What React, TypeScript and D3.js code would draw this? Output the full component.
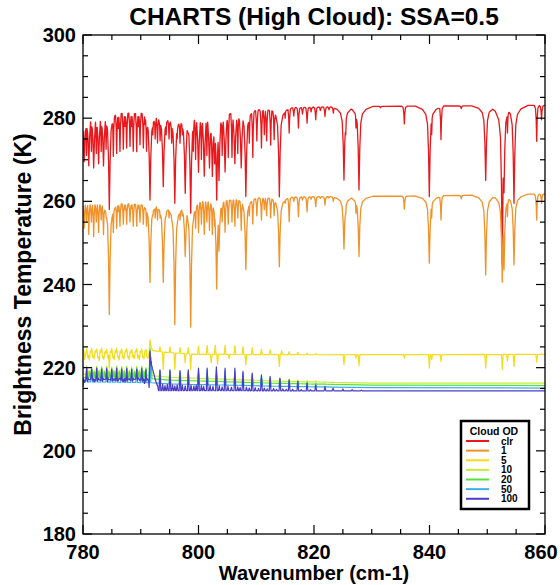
import React from 'react';
import * as d3 from 'd3';

// ---------- text & axes ----------
const TITLE = 'CHARTS (High Cloud): SSA=0.5';
const X_TITLE = 'Wavenumber (cm-1)';
const Y_TITLE = 'Brightness Temperature (K)';
const LEGEND_TITLE = 'Cloud OD';
const X_DOMAIN: [number, number] = [780, 860];
const Y_DOMAIN: [number, number] = [180, 300];
const X_TICKS = [780, 800, 820, 840, 860];
const Y_TICKS = [180, 200, 220, 240, 260, 280, 300];
const X_MINOR = d3.range(780, 861, 5);
const Y_MINOR = d3.range(180, 301, 5);
const SERIES_NAMES = ['clr', '1', '5', '10', '20', '50', '100'];

// ---------- series: continuum (envelope) + line features [wavenumber, T] ----------
const clrEnvelope: [number, number][] = [
  [780, 281.7], [785, 281.9], [790, 281.9], [791.6, 281.0], [795, 280.6], [797, 280.2], [798.65, 280.6],
  [799.6, 281.9], [805, 282.1], [810, 282.3], [815, 282.6], [825, 282.8], [840, 282.9], [860, 283.1],
];
const clrLines: [number, number][] = [
  [780.2, 269.5], [780.6, 271], [781.0, 268.5], [781.45, 272], [781.85, 268], [782.3, 271.5], [782.7, 269],
  [783.15, 272], [783.55, 268.5], [784.0, 272.5], [784.56, 258],
  [785.25, 270.8], [785.83, 271.5], [786.1, 277.5], [786.4, 272], [786.98, 272.5], [787.27, 278], [787.56, 272.8],
  [788.14, 273.2], [788.4, 278], [788.7, 272], [789.3, 271.9], [789.6, 278], [789.87, 273.6], [790.45, 272.8],
  [790.75, 278.5], [791.0, 272],
  [791.6, 260.3], [792.1, 276], [792.5, 275], [792.9, 274], [793.35, 274.5], [793.9, 263.5],
  [794.4, 276], [794.9, 275], [795.35, 274], [795.9, 259.5], [796.3, 275], [796.8, 274], [797.2, 276],
  [797.7, 261.9], [798.65, 257.1],
  [799.1, 272], [799.5, 270], [800.0, 267], [800.5, 270], [801.0, 266], [801.45, 271], [801.9, 268],
  [802.4, 266], [802.8, 269], [803.15, 260.3], [803.55, 265],
  [804.1, 271], [804.6, 267], [805.15, 270.5], [805.8, 270.5], [806.3, 269], [806.8, 271.5], [807.4, 268],
  [808.2, 261.1],
  [808.8, 274], [809.4, 270.5], [810.1, 274.5], [810.9, 272.8], [811.4, 276], [811.8, 274.5], [812.5, 273.5],
  [813.1, 274.8], [814.0, 261.1],
  [815.0, 280], [815.7, 276.4], [816.5, 280.5], [817.3, 277.6], [818.0, 281], [818.8, 278.8], [819.5, 281.5],
  [820.3, 279.6], [821.1, 281.8], [821.9, 280.4], [822.6, 282], [823.35, 281.2], [824.4, 282],
  [825.19, 265.1], [825.5, 276], [827.27, 277.6], [827.79, 262.7], [829.5, 282.4], [831.5, 282.5],
  [835.64, 278.6], [839.97, 261.1], [840.38, 276], [841.99, 274.8], [845.5, 282.3], [849.73, 265],
  [852.6, 245], [852.9, 262], [853.5, 276.4], [854.63, 259.5], [858.56, 274.4], [859.4, 279.6],
];

const od1Envelope: [number, number][] = [
  [780, 259.6], [785, 259.9], [791.6, 259.6], [797, 259.0], [798.65, 259.3], [799.6, 260.3], [805, 260.7],
  [810, 261.0], [815, 261.1], [840, 261.3], [860, 261.8],
];
const od1Lines: [number, number][] = [
  [780.2, 253.5], [780.6, 255], [781.0, 252], [781.45, 255], [781.85, 251.5], [782.3, 255], [782.7, 252.5],
  [783.15, 255.5], [783.55, 252], [784.0, 256], [784.56, 232.7],
  [785.25, 252.5], [785.83, 253.5], [786.1, 257.5], [786.4, 254], [786.98, 254.5], [787.27, 258], [787.56, 254.5],
  [788.14, 255], [788.4, 258.3], [788.7, 254], [789.3, 254], [789.6, 258.3], [789.87, 255], [790.45, 254.5],
  [790.75, 258.5], [791.0, 254],
  [791.6, 240.5], [792.1, 256.5], [792.5, 256], [792.9, 255.5], [793.35, 256], [793.9, 240.5],
  [794.4, 256.5], [794.9, 256], [795.35, 255.5], [795.9, 230.3], [796.3, 256], [796.8, 255.5], [797.2, 256.5],
  [797.7, 246.7], [798.65, 229.7],
  [799.1, 255], [799.5, 253.5], [800.0, 252.5], [800.5, 254.5], [801.0, 252], [801.45, 255], [801.9, 253],
  [802.4, 252], [802.8, 254], [803.15, 238.9], [803.55, 248],
  [804.1, 255], [804.6, 252.5], [805.15, 254.5], [805.8, 255], [806.3, 254], [806.8, 256], [807.4, 253],
  [808.2, 243.5],
  [808.8, 256.5], [809.4, 254.5], [810.1, 256.5], [810.9, 255.5], [811.4, 258], [811.8, 256.5], [812.5, 256],
  [813.1, 256.5], [814.0, 244.3],
  [815.0, 259.5], [815.7, 255.1], [816.5, 260], [817.3, 256.3], [818.0, 260.3], [818.8, 257.5], [819.5, 260.5],
  [820.3, 258.7], [821.1, 260.7], [821.9, 259.1], [822.6, 260.8], [823.35, 260],
  [825.19, 248.5], [825.5, 256.8], [827.27, 257.1], [827.79, 246.7], [835.64, 258.1], [839.97, 245.1],
  [840.38, 256], [841.99, 255.5], [845.5, 260.6], [849.73, 242.3], [852.6, 240.5], [852.9, 243.5], [853.5, 256.3],
  [854.63, 244.7], [858.56, 255.5], [859.4, 259.5],
];

const od5Envelope: [number, number][] = [
  [780, 223.3], [791.4, 223.3], [791.8, 224.2], [793, 223.9], [795, 223.6], [800, 223.2], [820, 223.1], [860, 223.2],
];
const od5Lines: [number, number][] = [
  [780.1, 224.2], [780.3, 222.0], [780.64, 224.6], [780.85, 222.4], [781.1, 221.8], [781.3, 224.0], [781.5, 224.7],
  [781.7, 222.5], [781.9, 222.1], [782.15, 224.1], [782.37, 224.5], [782.6, 222.3], [782.8, 221.7], [783.0, 224.2],
  [783.23, 224.7], [783.4, 222.4], [783.6, 222.0], [783.85, 224.0], [784.1, 224.4], [784.3, 222.3], [784.56, 219.9],
  [784.75, 224.0], [784.97, 224.6], [785.2, 222.3], [785.4, 222.0], [785.6, 224.1], [785.83, 224.7], [786.05, 222.4],
  [786.25, 221.8], [786.45, 224.0], [786.7, 224.5], [786.9, 222.3], [787.1, 222.1], [787.35, 224.2], [787.57, 224.6],
  [787.8, 222.4], [788.0, 221.9], [788.2, 224.0], [788.43, 224.4], [788.65, 222.4], [788.9, 222.2], [789.1, 224.1],
  [789.3, 224.6], [789.5, 222.3], [789.75, 221.9], [789.95, 224.0], [790.17, 224.5], [790.35, 222.4], [790.55, 222.1],
  [790.75, 224.1], [790.9, 224.4], [791.1, 222.5], [791.25, 222.2],
  [791.6, 226.7], [791.75, 225.3], [791.9, 224.6], [793.33, 225.0], [793.9, 219.5], [795.06, 225.0], [795.9, 219.5],
  [796.8, 224.8], [797.7, 221.1], [798.23, 224.8], [798.65, 219.5], [800.0, 225.2], [801.5, 225.4], [802.2, 221.2],
  [802.9, 225.4], [803.3, 220.8], [804.6, 225.4], [805.3, 222.2], [806.3, 225.3], [807.7, 225.1], [808.2, 220.7],
  [809.3, 224.8], [810.9, 224.5], [812.4, 224.3], [814.0, 220.3], [814.4, 224.1], [815.7, 223.9], [817.2, 223.7],
  [818.8, 223.5], [820.3, 223.4],
  [825.19, 220.7], [827.27, 222.3], [827.79, 220.5], [835.64, 222.3], [839.97, 219.9], [840.38, 222.0],
  [841.99, 221.5], [849.73, 219.9], [852.6, 219.5], [853.5, 221.6], [854.63, 220.3], [858.56, 221.3],
];

const od10Envelope: [number, number][] = [
  [780, 218.4], [791.5, 218.1], [795, 217.7], [805, 217.2], [815, 216.7], [830, 216.3], [860, 216.3],
];
const od10Lines: [number, number][] = [
  [780.64, 220.4], [781.05, 219.4], [781.5, 220.2], [781.95, 219.3], [782.37, 220.4], [782.8, 219.4], [783.23, 220.3],
  [783.65, 219.3], [784.1, 220.4], [784.5, 219.4], [784.97, 220.2], [785.4, 219.3], [785.83, 220.4], [786.25, 219.4],
  [786.7, 220.3], [787.15, 219.3], [787.57, 220.4], [788.0, 219.4], [788.43, 220.2], [788.85, 219.3], [789.3, 220.3],
  [789.75, 219.4], [790.17, 220.4], [790.55, 219.3], [790.9, 220.1],
  [791.6, 225.0], [791.8, 222.0], [793.33, 219.3], [795.06, 219.2], [796.8, 219.0], [798.23, 219.0], [800.0, 218.9],
  [801.5, 218.8], [803.1, 218.7], [804.6, 218.5], [806.3, 218.3], [807.7, 218.1], [809.3, 217.9], [810.9, 217.7],
  [812.4, 217.5], [814.1, 217.4], [815.7, 217.2], [817.2, 217.0], [818.8, 216.9], [820.3, 216.8], [821.9, 216.6],
  [823.3, 216.5],
];

const od20Envelope: [number, number][] = [
  [780, 217.6], [791.5, 217.4], [795, 217.0], [805, 216.6], [815, 216.2], [830, 215.8], [860, 215.7],
];
const od20Lines: [number, number][] = [
  [780.64, 220.1], [781.1, 219.0], [781.5, 219.9], [781.9, 219.0], [782.37, 220.1], [782.75, 219.1], [783.23, 220.0],
  [783.7, 219.0], [784.1, 220.1], [784.55, 219.0], [784.97, 219.9], [785.35, 219.1], [785.83, 220.1], [786.3, 219.0],
  [786.7, 220.0], [787.1, 219.1], [787.57, 220.1], [788.0, 219.0], [788.43, 219.9], [788.9, 219.0], [789.3, 220.0],
  [789.7, 219.1], [790.17, 220.1], [790.6, 219.0], [790.9, 219.8],
  [791.6, 224.5], [791.8, 221.5], [793.33, 218.9], [795.06, 218.8], [796.8, 218.7], [798.23, 218.7], [800.0, 218.6],
  [801.5, 218.5], [803.1, 218.4], [804.6, 218.2], [806.3, 218.0], [807.7, 217.8], [809.3, 217.6], [810.9, 217.4],
  [812.4, 217.2], [814.1, 217.0], [815.7, 216.8], [817.2, 216.6], [818.8, 216.5], [820.3, 216.3], [821.9, 216.1],
  [823.3, 216.0],
];

const od50Envelope: [number, number][] = [
  [780, 216.6], [791.5, 216.4], [795, 216.1], [805, 215.8], [815, 215.5], [830, 215.2], [860, 215.1],
];
const od50Lines: [number, number][] = [
  [780.64, 219.7], [781.5, 219.5], [782.37, 219.8], [783.23, 219.6], [784.1, 219.7], [784.97, 219.5], [785.83, 219.8],
  [786.7, 219.6], [787.57, 219.7], [788.43, 219.5], [789.3, 219.6], [790.17, 219.7], [790.9, 219.4],
  [791.6, 224.0], [793.33, 219.2], [795.06, 219.2], [796.8, 219.0], [798.23, 219.1], [800.0, 219.4], [801.5, 219.4],
  [803.1, 219.6], [804.6, 219.3], [806.3, 219.2], [807.7, 218.7], [809.3, 218.3], [810.9, 217.9], [812.4, 217.5],
  [814.1, 217.2], [815.7, 216.8], [817.2, 216.5], [818.8, 216.1], [820.3, 215.8], [821.9, 215.5], [823.3, 215.3],
];

const od100Envelope: [number, number][] = [[780, 214.5], [830, 214.4], [860, 214.4]];
const od100Lines: [number, number][] = [
  [780.1, 217.3], [780.22, 216.9], [780.35, 217.0], [780.5, 217.3], [780.64, 219.8], [780.77, 217.0], [780.9, 217.5],
  [781.05, 217.2], [781.2, 217.1], [781.35, 217.4], [781.5, 219.6], [781.65, 217.1], [781.8, 217.4], [781.92, 217.0],
  [782.05, 217.2], [782.2, 217.4], [782.37, 219.9], [782.5, 217.1], [782.65, 217.5], [782.8, 217.2], [782.95, 217.0],
  [783.1, 217.3], [783.23, 219.7], [783.36, 217.0], [783.5, 217.4], [783.65, 217.2], [783.8, 217.2], [783.95, 217.4],
  [784.1, 219.8], [784.22, 217.1], [784.35, 217.5], [784.5, 217.2], [784.65, 217.1], [784.8, 217.4], [784.97, 219.6],
  [785.1, 217.2], [785.25, 217.3], [785.4, 217.0], [785.55, 217.4], [785.7, 217.2], [785.83, 219.9], [785.97, 217.1],
  [786.1, 217.2], [786.25, 217.4], [786.4, 217.5], [786.55, 217.0], [786.7, 219.7], [786.82, 217.3], [786.95, 217.1],
  [787.12, 217.4], [787.3, 217.4], [787.43, 217.1], [787.57, 219.8], [787.7, 217.2], [787.85, 217.3], [788.0, 217.4],
  [788.15, 217.0], [788.3, 217.3], [788.43, 219.6], [788.56, 217.1], [788.7, 217.4], [788.85, 217.2], [789.0, 217.2],
  [789.15, 217.4], [789.3, 219.7], [789.45, 217.0], [789.6, 217.5], [789.75, 217.2], [789.9, 217.1], [790.03, 217.4],
  [790.17, 219.8], [790.3, 217.1], [790.45, 217.3], [790.58, 217.2], [790.7, 217.0], [790.8, 217.3], [790.9, 219.5],
  [791.05, 217.1], [791.2, 217.2], [791.35, 217.0],
  [791.6, 223.9], [791.72, 222.6], [791.85, 221.4], [791.98, 220.3], [792.12, 219.4], [792.27, 218.6],
  [792.42, 217.8], [792.58, 217.1], [792.75, 216.4], [792.92, 215.8],
  [793.33, 219.5], [793.8, 216.0], [794.2, 215.7], [794.6, 216.0], [795.06, 219.5], [795.5, 215.9], [795.9, 215.6],
  [796.3, 215.9], [796.8, 219.3], [797.2, 215.8], [797.7, 215.6], [798.23, 219.5], [798.7, 215.8], [799.2, 215.6],
  [799.6, 215.8], [800.0, 219.9], [800.5, 215.7], [800.9, 215.5], [801.5, 219.9], [802.0, 215.7], [802.5, 215.5],
  [803.1, 220.2], [803.6, 215.6], [804.1, 215.4], [804.6, 219.9], [805.1, 215.5], [805.7, 215.3], [806.3, 219.9],
  [806.8, 215.4], [807.2, 215.2], [807.7, 219.1], [808.3, 215.3], [808.8, 215.1], [809.3, 218.7], [809.8, 215.2],
  [810.4, 215.0], [810.9, 218.3], [811.4, 215.1], [811.9, 214.9], [812.4, 217.9], [813.0, 215.0], [813.5, 214.8],
  [814.1, 217.5], [814.6, 214.9], [815.2, 214.8], [815.7, 217.1], [816.3, 214.8], [817.2, 216.7], [817.8, 214.7],
  [818.8, 216.3], [819.4, 214.7], [820.3, 215.9], [821.9, 215.5], [823.3, 215.1], [825.0, 214.9], [826.6, 214.7],
  [828.2, 214.6],
];

const SERIES = [
  { env: clrEnvelope, lines: clrLines },
  { env: od1Envelope, lines: od1Lines },
  { env: od5Envelope, lines: od5Lines },
  { env: od10Envelope, lines: od10Lines },
  { env: od20Envelope, lines: od20Lines },
  { env: od50Envelope, lines: od50Lines },
  { env: od100Envelope, lines: od100Lines },
];

// ---------- styles ----------
const COLORS = ['#e8181c', '#f0922a', '#f2dc1c', '#c6ec3a', '#56e03a', '#3aaee8', '#4b3cc8'];
const FONT = '"Liberation Sans", Arial, Helvetica, sans-serif';
const W = 560, H = 585;
const PL = 83, PR = 545, PT = 35, PB = 534;
// line shapes in pixels: [offset, fraction of depth]
const PROFILE_WIDE: [number, number][] = [
  [-14, 0], [-7, 0.035], [-3.5, 0.09], [-1.8, 0.2], [-0.8, 0.5], [0, 1], [0.8, 0.5], [1.8, 0.2], [3.5, 0.09], [7, 0.035], [14, 0],
];
const PROFILE_MED: [number, number][] = [
  [-2.6, 0], [-1.2, 0.08], [-0.5, 0.4], [0, 1], [0.5, 0.4], [1.2, 0.08], [2.6, 0],
];
const PROFILE_NARROW: [number, number][] = [[-0.85, 0], [0, 1], [0.85, 0]];
const DEEP_LINE_K = 12;

export default function App() {
  const x = d3.scaleLinear().domain(X_DOMAIN).range([PL, PR]);
  const y = d3.scaleLinear().domain(Y_DOMAIN).range([PB, PT]);
  const lineGen = d3.line<[number, number]>().x((d) => d[0]).y((d) => d[1]);
  const mkProfile = (prof: [number, number][]) => ({
    s: d3.scaleLinear().domain(prof.map((p) => p[0])).range(prof.map((p) => p[1])).clamp(true),
    offs: prof.map((p) => p[0]),
    reach: prof[prof.length - 1][0],
  });
  const pWide = mkProfile(PROFILE_WIDE);
  const pMed = mkProfile(PROFILE_MED);
  const pNarrow = mkProfile(PROFILE_NARROW);

  const buildPath = (env: [number, number][], lines: [number, number][], upper: boolean) => {
    const envScale = d3.scaleLinear().domain(env.map((d) => d[0])).range(env.map((d) => d[1])).clamp(true);
    const lp = lines.map(([c, t]) => {
      const delta = t - envScale(c);
      const prof = upper ? (Math.abs(delta) > DEEP_LINE_K ? pWide : pMed) : pNarrow;
      return { cp: x(c), delta, prof };
    });
    const set = new Set<number>();
    set.add(PL); set.add(PR);
    env.forEach((d) => set.add(Math.round(x(d[0]) * 100) / 100));
    lp.forEach((l) => l.prof.offs.forEach((o) => set.add(Math.round((l.cp + o) * 100) / 100)));
    const pxs = Array.from(set).filter((p) => p >= PL && p <= PR).sort((a, b) => a - b);
    const pts: [number, number][] = pxs.map((px) => {
      const b = envScale(x.invert(px));
      let lo = 0, hi = 0;
      for (const l of lp) {
        const dd = px - l.cp;
        if (dd <= -l.prof.reach || dd >= l.prof.reach) continue;
        const v = l.delta * l.prof.s(dd);
        if (v < lo) lo = v;
        if (v > hi) hi = v;
      }
      return [px, y(b + lo + hi)];
    });
    return lineGen(pts) || '';
  };

  const paths = SERIES.map((s, i) => buildPath(s.env, s.lines, i < 2));

  const legX = 461, legY = 421, legW = 68, legH = 88;
  const xLabelX = (v: number) => Math.min(x(v), W - 19);

  return (
    <div style={{ position: 'absolute', left: 0, top: 0, width: W, height: H, background: '#fff' }}>
      <svg width={W} height={H} style={{ display: 'block' }} fontFamily={FONT}>
        <rect x={0} y={0} width={W} height={H} fill="#fff" />
        <defs>
          <clipPath id="plotClip">
            <rect x={PL} y={PT} width={PR - PL} height={PB - PT} />
          </clipPath>
        </defs>
        <text x={(PL + PR) / 2} y={25} textAnchor="middle" fontSize={24.5} fontWeight="bold">{TITLE}</text>

        <g clipPath="url(#plotClip)">
          {paths.map((p, i) => (
            <path key={i} d={p} fill="none" stroke={COLORS[i]} strokeWidth={i < 2 ? 1.3 : 1.2} strokeLinejoin="round" />
          ))}
        </g>

        {/* frame */}
        <rect x={PL} y={PT} width={PR - PL} height={PB - PT} fill="none" stroke="#000" strokeWidth={1.3} />
        {X_MINOR.map((v) => {
          const len = X_TICKS.includes(v) ? 9 : 5;
          return (
            <g key={'xt' + v}>
              <line x1={x(v)} x2={x(v)} y1={PB} y2={PB - len} stroke="#000" strokeWidth={1.2} />
              <line x1={x(v)} x2={x(v)} y1={PT} y2={PT + len} stroke="#000" strokeWidth={1.2} />
            </g>
          );
        })}
        {Y_MINOR.map((v) => {
          const len = Y_TICKS.includes(v) ? 9 : 5;
          return (
            <g key={'yt' + v}>
              <line x1={PL} x2={PL + len} y1={y(v)} y2={y(v)} stroke="#000" strokeWidth={1.2} />
              <line x1={PR} x2={PR - len} y1={y(v)} y2={y(v)} stroke="#000" strokeWidth={1.2} />
            </g>
          );
        })}
        {X_TICKS.map((v) => (
          <text key={'xl' + v} x={xLabelX(v)} y={559} textAnchor="middle" fontSize={20} fontWeight="bold">{v}</text>
        ))}
        {Y_TICKS.map((v) => (
          <text key={'yl' + v} x={76} y={y(v) + 7} textAnchor="end" fontSize={20} fontWeight="bold">{v}</text>
        ))}
        <text x={(PL + PR) / 2} y={580} textAnchor="middle" fontSize={20} fontWeight="bold">{X_TITLE}</text>
        <text transform={`translate(31,${(PT + PB) / 2}) rotate(-90)`} textAnchor="middle" fontSize={23} fontWeight="bold">{Y_TITLE}</text>

        {/* legend */}
        <rect x={legX} y={legY} width={legW} height={legH} fill="#fff" stroke="#000" strokeWidth={2.5} />
        <text x={legX + legW / 2 - 1} y={434.5} textAnchor="middle" fontSize={10.5} fontWeight="bold">{LEGEND_TITLE}</text>
        {SERIES_NAMES.map((n, i) => {
          const ly = 441 + i * 9.63;
          return (
            <g key={'lg' + n}>
              <line x1={466} x2={489} y1={ly} y2={ly} stroke={COLORS[i]} strokeWidth={2} />
              <text x={501} y={ly + 3.6} fontSize={10} fontWeight="bold">{n}</text>
            </g>
          );
        })}
      </svg>
    </div>
  );
}
